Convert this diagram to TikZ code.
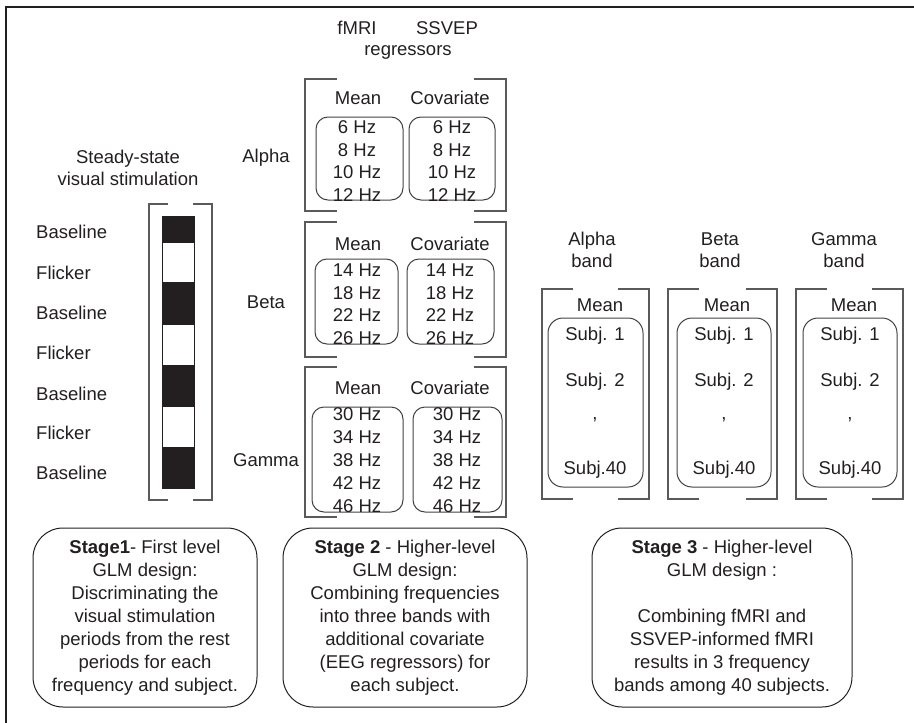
\documentclass[tikz,border=0pt]{standalone}
\usepackage{fontspec}
\setmainfont{Liberation Sans}
\usepackage{xcolor}
\usepackage{tikz}
\usetikzlibrary{positioning}
\definecolor{ink}{HTML}{231F20}
\definecolor{rulegray}{HTML}{5A5A5A}

\begin{document}
\begin{tikzpicture}[
  x=1pt, y=-1pt,
  font=\fontsize{18.5}{22.5}\selectfont,
  every node/.style={text=ink, inner sep=0pt},
  bracketline/.style={draw=rulegray, line width=1.6pt},
  hzbox/.style={draw=ink!85, line width=1pt, rounded corners=12pt},
  subjbox/.style={draw=ink!85, line width=1pt, rounded corners=15pt},
  stagebox/.style={draw=ink, line width=1pt, rounded corners=30pt,
                   align=center, font=\fontsize{18.5}{23}\selectfont},
  lbl/.style={align=center}
]
\useasboundingbox (0,0) rectangle (914,723);

% frame
\draw[ink, line width=2.5pt] (6,723) -- (6,7) -- (914,7);

% brackets
\foreach \xa/\ya/\xb/\yb/\s in {149/204/212/500/19, 305/79/506/211/32,
  305/222/506/357/32, 305/367/506/517/32, 542/289/649/499/31,
  668/289/777/499/31, 796/289/903/499/31}{
  \draw[bracketline] (\xa+\s,\ya) -- (\xa,\ya) -- (\xa,\yb) -- (\xa+\s,\yb);
  \draw[bracketline] (\xb-\s,\ya) -- (\xb,\ya) -- (\xb,\yb) -- (\xb-\s,\yb);
}

% stage 1: stimulation periods
\node[lbl] (stimtitle) at (128,168) {Steady-state\\visual stimulation};
\draw[ink, line width=1pt] (162,216) rectangle (194,488);
\foreach \ya/\yb in {216/243, 282/325, 365/407, 447/488}
  \fill[ink] (162,\ya) rectangle (194,\yb);
\foreach \y/\lbl in {232/Baseline, 273/Flicker, 313/Baseline, 353/Flicker,
  394/Baseline, 433/Flicker, 473/Baseline}
  \node[anchor=west] (period-\y) at (36,\y) {\lbl};

% stage 2: regressors
\node (fmri) at (357,28) {fMRI};
\node (ssvep) at (447,28) {SSVEP};
\node (regr) at (408,52) {regressors};

\foreach \by/\bandname in {158/Alpha, 302/Beta, 460/Gamma}
  \node (band-\bandname) at (266,\by) {\bandname};

\foreach \my/\bandname in {98/Alpha, 244/Beta, 388/Gamma}{
  \node (mean-\bandname) at (358,\my) {Mean};
  \node (cov-\bandname) at (450,\my) {Covariate};
}

\draw[hzbox] (316,117) rectangle (403,200);
\draw[hzbox] (409,117) rectangle (495,200);
\draw[hzbox] (315,259) rectangle (398,344);
\draw[hzbox] (407,259) rectangle (494,344);
\draw[hzbox] (312,407) rectangle (403,512);
\draw[hzbox] (413,407) rectangle (502,512);

\node[lbl] (hz-a-mean) at (357,161) {6 Hz\\8 Hz\\10 Hz\\12 Hz};
\node[lbl] (hz-a-cov)  at (452,161) {6 Hz\\8 Hz\\10 Hz\\12 Hz};
\node[lbl] (hz-b-mean) at (357,304) {14 Hz\\18 Hz\\22 Hz\\26 Hz};
\node[lbl] (hz-b-cov)  at (450,304) {14 Hz\\18 Hz\\22 Hz\\26 Hz};
\node[lbl, font=\fontsize{18.5}{23}\selectfont] (hz-g-mean) at (357,460)
  {30 Hz\\34 Hz\\38 Hz\\42 Hz\\46 Hz};
\node[lbl, font=\fontsize{18.5}{23}\selectfont] (hz-g-cov)  at (457,460)
  {30 Hz\\34 Hz\\38 Hz\\42 Hz\\46 Hz};

% stage 3: group level per band
\foreach \sx/\mx/\hx/\xa/\xb/\bandname in {595/600/592/548/643/Alpha,
  724/727/720/677/771/Beta, 850/854/844/803/897/Gamma}{
  \node[lbl] (head-\bandname) at (\hx,250) {\bandname\\band};
  \node (gmean-\bandname) at (\mx,305) {Mean};
  \draw[subjbox] (\xa,318) rectangle (\xb,487);
  \node (s1-\bandname) at (\sx,336) {Subj. 1};
  \node (s2-\bandname) at (\sx,382) {Subj. 2};
  \node (dots-\bandname) at (\sx,420) {,};
  \node (s40-\bandname) at (\sx,470) {Subj.40};
}

% stage descriptions
\node[stagebox, minimum width=224pt, minimum height=179pt] (stage1) at (145,617.5)
  {\textbf{Stage1}- First level\\GLM design:\\Discriminating the\\visual stimulation\\
   periods from the rest\\periods for each\\frequency and subject.};
\node[stagebox, minimum width=244pt, minimum height=179pt] (stage2) at (405,617.5)
  {\textbf{Stage 2} - Higher-level\\GLM design:\\Combining frequencies\\into three bands with\\
   additional covariate\\(EEG regressors) for\\each subject.};
\node[stagebox, minimum width=260pt, minimum height=179pt] (stage3) at (722,617.5)
  {\textbf{Stage 3} - Higher-level\\GLM design :\\[23pt]Combining fMRI and\\
   SSVEP-informed fMRI\\results in 3 frequency\\bands among 40 subjects.};

\end{tikzpicture}
\end{document}
